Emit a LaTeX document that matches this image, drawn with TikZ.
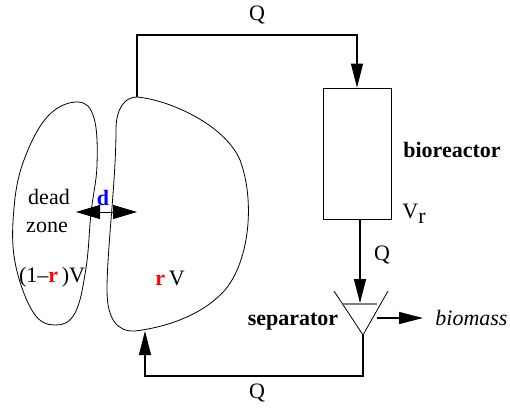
\documentclass[tikz,border=0pt]{standalone}
\usepackage{fontspec}
\setmainfont{Liberation Serif}
\usetikzlibrary{arrows.meta,calc,positioning}

\begin{document}
\begin{tikzpicture}[x=0.5pt,y=-0.5pt,
  font=\fontsize{11}{13}\selectfont,
  flow/.style={line width=0.6pt,-{Triangle[length=12pt,width=6pt]}},
  pipe/.style={line width=0.6pt},
  blob/.style={line width=0.4pt},
  lbl/.style={inner sep=0pt}]
  \useasboundingbox (0,0) rectangle (510,409);
  \begin{scope}
    % dead zone and main volume
    \draw[blob] plot[smooth cycle, tension=0.65] coordinates {(78,102) (94,118) (97,165) (91,213) (86,268) (75,313) (55,325) (33,312) (15,262) (14,208) (24,160) (48,116)};
    \draw[blob] (137,97) .. controls (170,100) and (225,125) .. (240,160)
      .. controls (255,200) and (250,260) .. (225,290)
      .. controls (200,318) and (160,328) .. (135,331)
      .. controls (118,332) and (107,320) .. (107,290)
      .. controls (107,250) and (116,180) .. (116,130)
      .. controls (116,108) and (125,97) .. (137,97) -- cycle;
    \coordinate (tanktop) at (137,97);
    \coordinate (tankbot) at (145,331);
    \node[lbl] (dead) at (49,197) {dead};
    \node[lbl] (zone) at (47,227) {zone};
    \node[lbl] (vdead) at (52,277) {(1--\textcolor{red}{\textbf{r}}\,)V};
    \node[lbl] (vmain) at (170,278) {\textcolor{red}{\textbf{r}}\,V};
    \coordinate (dl) at (76,212);
    \coordinate (dr) at (137,212);
    \draw[blob,{Triangle[length=12pt,width=7pt]}-{Triangle[length=12pt,width=7pt]}] (dl) -- (dr);
    \node[lbl,text=blue] (d) at (103,198) {\textbf{d}};
  \end{scope}

  \begin{scope}
    % bioreactor and separator
    \node[draw,blob,minimum width=34pt,minimum height=65.5pt,inner sep=0pt] (reactor) at (357,153.5) {};
    \node[lbl] (bio) at (452,150) {\textbf{bioreactor}};
    \node[lbl] (vr) at (414,214) {V\raisebox{-0.5ex}{r}};
    \coordinate (sepL) at (334,291);
    \coordinate (sepR) at (388,291);
    \coordinate (sepB) at (363,335);
    \coordinate (sepin) at (360,303);
    \coordinate (sepout) at (377,318);
    \draw[blob] (sepL) -- (sepB) -- (sepR);
    \draw[gray,line width=0.6pt] (343,304) -- (377,304);
    \node[lbl] (sep) at (293,322) {\textbf{separator}};
    \node[lbl,anchor=west] (biomass) at (435,318) {\textit{biomass}};
  \end{scope}

  % flows
  \draw[flow] (tanktop) -- (tanktop |- 0,35) -| (reactor.north);
  \draw[flow] (reactor.south -| sepin) -- (sepin);
  \draw[flow,shorten >=6pt] (sepout) -- (biomass.west);
  \draw[flow] (sepB) -- (sepB |- 0,376) -| (tankbot);
  \node[lbl] (q1) at (257,15) {Q};
  \node[lbl] (q2) at (382,255) {Q};
  \node[lbl] (q3) at (257,393) {Q};
\end{tikzpicture}
\end{document}
